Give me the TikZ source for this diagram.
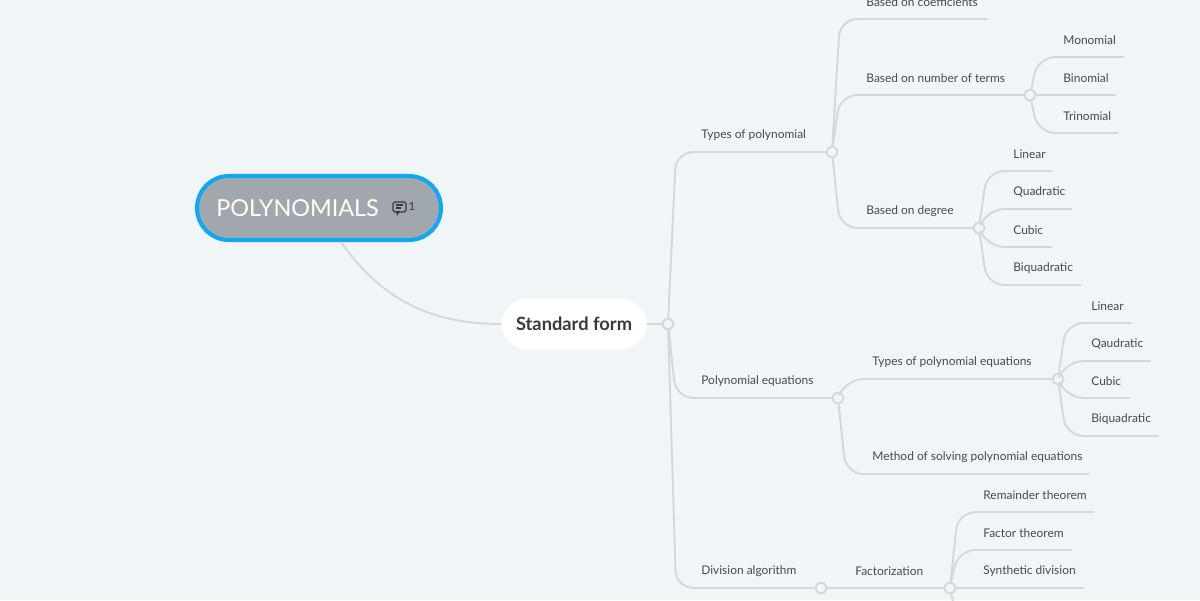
\documentclass[tikz,border=0pt]{standalone}
\usepackage{fontspec}
\setmainfont{Lato}
\usetikzlibrary{positioning}
\definecolor{bgcol}{HTML}{F0F5F8}
\definecolor{linecol}{HTML}{D3D8DC}
\definecolor{rootfill}{HTML}{A0A8AD}
\definecolor{rootrim}{HTML}{10A8F2}
\definecolor{txtcol}{HTML}{454A50}
\definecolor{darktxt}{HTML}{353A40}

\begin{document}
\begin{tikzpicture}[x=0.02cm,y=-0.02cm,
    link/.style={draw=linecol,line width=1.1pt},
    branch/.style={link,rounded corners=10pt},
    knot/.style={circle,draw=linecol,fill=bgcol,line width=1.1pt,inner sep=0pt,minimum size=0.22cm},
    lbl/.style={anchor=west,inner sep=0pt,text=txtcol,font=\fontsize{6.8}{8}\selectfont}]
    \clip (0,0) rectangle (1200,600);
    \fill[bgcol] (0,0) rectangle (1200,600);

    % central topic
    \node[draw=rootrim,line width=2.3pt,fill=rootfill,rounded corners=0.64cm,
          minimum width=4.88cm,minimum height=1.28cm] (poly) at (319,208) {};
    \node[anchor=west,inner sep=0pt,text=white,font=\fontsize{13.3}{15}\selectfont] (title) at (216,208) {POLYNOMIALS};
    \draw[darktxt,line width=0.75pt,rounded corners=1pt] (393,202) rectangle (406,212);
    \fill[darktxt] (396,211) -- (397,216) -- (400,211) -- cycle;
    \draw[darktxt,line width=0.7pt] (396,205) -- (403,205) (396,208) -- (401,208);
    \node[inner sep=0pt,text=darktxt,font=\fontsize{6.5}{8}\selectfont] (count) at (412,206) {1};

    \node[fill=white,rounded corners=0.51cm,minimum width=2.9cm,minimum height=1.02cm,
          text=darktxt,font=\bfseries\fontsize{10.4}{12}\selectfont] (std) at (574,324) {Standard form};
    \draw[link] (poly.-57.5) to[out=-55,in=180] (std.west);

    \node[knot] (k0) at (668,324) {};
    \draw[link] (std.east) -- (k0);

    % first level
    \node[knot] (k1) at (832,152) {};
    \node[knot] (k2) at (838,398) {};
    \node[knot] (k3) at (821,588) {};
    \draw[branch] (k0) -- (676,152) -- (k1);
    \draw[branch] (k0) -- (676,398) -- (k2);
    \draw[branch] (k0) -- (676,588) -- (k3);
    \node[lbl] (types) at (701,135) {Types of polynomial};
    \node[lbl] (eqns) at (701,381) {Polynomial equations};
    \node[lbl] (divalg) at (701,571) {Division algorithm};

    % types of polynomial
    \node[knot] (k4) at (1030,95) {};
    \node[knot] (k5) at (979,228) {};
    \coordinate (coefEnd) at (987,19);
    \draw[branch] (k1) -- (840,19) -- (coefEnd);
    \draw[branch] (k1) -- (840,95) -- (k4);
    \draw[branch] (k1) -- (840,228) -- (k5);
    \node[lbl] (coef) at (866,2) {Based on coefficients};
    \node[lbl] (terms) at (866,78) {Based on number of terms};
    \node[lbl] (degree) at (866,211) {Based on degree};

    \coordinate (monoEnd) at (1124,57);
    \coordinate (binoEnd) at (1116,95);
    \coordinate (trinoEnd) at (1118,133);
    \draw[branch] (k4) -- (1038,57) -- (monoEnd);
    \draw[branch] (k4) -- (binoEnd);
    \draw[branch] (k4) -- (1038,133) -- (trinoEnd);
    \node[lbl] (mono) at (1063,40) {Monomial};
    \node[lbl] (bino) at (1063,78) {Binomial};
    \node[lbl] (trino) at (1063,116) {Trinomial};

    \coordinate (linEnd) at (1052,171);
    \coordinate (quadEnd) at (1072,209);
    \coordinate (cubEnd) at (1052,247);
    \coordinate (biqEnd) at (1081,285);
    \draw[branch] (k5) -- (987,171) -- (linEnd);
    \draw[branch] (k5) -- (987,209) -- (quadEnd);
    \draw[branch] (k5) -- (987,247) -- (cubEnd);
    \draw[branch] (k5) -- (987,285) -- (biqEnd);
    \node[lbl] (lin) at (1013,154) {Linear};
    \node[lbl] (quad) at (1013,192) {Quadratic};
    \node[lbl] (cub) at (1013,230) {Cubic};
    \node[lbl] (biq) at (1013,268) {Biquadratic};

    % polynomial equations
    \node[knot] (k6) at (1058,379) {};
    \coordinate (methEnd) at (1089,474);
    \draw[branch] (k2) -- (846,379) -- (k6);
    \draw[branch] (k2) -- (846,474) -- (methEnd);
    \node[lbl] (eqtypes) at (872,362) {Types of polynomial equations};
    \node[lbl] (method) at (872,457) {Method of solving polynomial equations};

    \coordinate (elinEnd) at (1131,323);
    \coordinate (equadEnd) at (1151,361);
    \coordinate (ecubEnd) at (1130,398);
    \coordinate (ebiqEnd) at (1159,436);
    \draw[branch] (k6) -- (1066,323) -- (elinEnd);
    \draw[branch] (k6) -- (1066,361) -- (equadEnd);
    \draw[branch] (k6) -- (1066,398) -- (ecubEnd);
    \draw[branch] (k6) -- (1066,436) -- (ebiqEnd);
    \node[lbl] (elin) at (1091,306) {Linear};
    \node[lbl] (equad) at (1091,344) {Qaudratic};
    \node[lbl] (ecub) at (1091,381) {Cubic};
    \node[lbl] (ebiq) at (1091,419) {Biquadratic};

    % division algorithm
    \node[knot] (k7) at (950,588) {};
    \draw[branch] (k3) -- (k7);
    \node[lbl] (factz) at (855,571) {Factorization};

    \coordinate (remEnd) at (1094,512);
    \coordinate (factEnd) at (1072,550);
    \coordinate (synEnd) at (1084,588);
    \coordinate (lowEnd) at (1080,626);
    \draw[branch] (k7) -- (958,512) -- (remEnd);
    \draw[branch] (k7) -- (958,550) -- (factEnd);
    \draw[branch] (k7) -- (synEnd);
    \draw[branch] (k7) -- (958,626) -- (lowEnd);
    \node[lbl] (rem) at (983,495) {Remainder theorem};
    \node[lbl] (fact) at (983,533) {Factor theorem};
    \node[lbl] (syn) at (983,571) {Synthetic division};
\end{tikzpicture}
\end{document}
